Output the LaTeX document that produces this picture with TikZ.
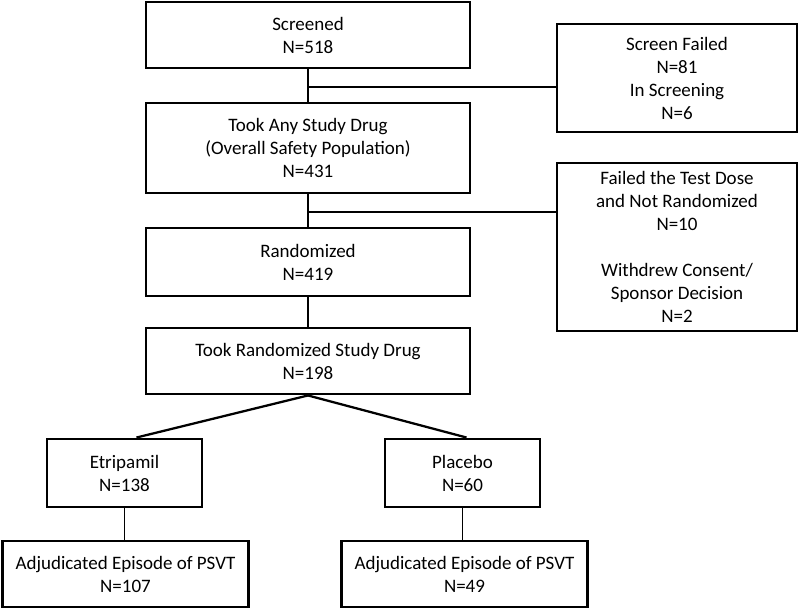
\documentclass[tikz,border=0pt]{standalone}
\usepackage{fontspec}
\setmainfont{Carlito}
\begin{document}
\begin{tikzpicture}[x=0.75pt,y=-0.75pt,
  box/.style={draw=black, line width=2.2pt, rectangle, inner sep=0pt, align=center,
    font=\fontsize{14.25}{17.25}\selectfont},
  conn/.style={draw=black, line width=1.2pt},
  mainconn/.style={draw=black, line width=1.7pt}]
\useasboundingbox (0,0) rectangle (800,609);
% main column
\node[box, minimum width=243pt, minimum height=49.5pt] (scr) at (308,35) {Screened\\N=518};
\node[box, minimum width=243pt, minimum height=67.5pt] (any) at (308,148) {Took Any Study Drug\\(Overall Safety Population)\\N=431};
\node[box, minimum width=243pt, minimum height=51pt] (rnd) at (308,262) {Randomized\\N=419};
\node[box, minimum width=243pt, minimum height=49.5pt] (trd) at (308,361) {Took Randomized Study Drug\\N=198};
% side boxes
\node[box, minimum width=180pt, minimum height=81pt] (sf) at (677,78) {Screen Failed\\N=81\\In Screening\\N=6};
\node[box, minimum width=180pt, minimum height=126pt] (ft) at (677,247) {Failed the Test Dose\\and Not Randomized\\N=10\\[17.25pt]Withdrew Consent/\\Sponsor Decision\\N=2};
% arms
\node[box, minimum width=116.25pt, minimum height=51pt] (eti) at (124.5,473) {Etripamil\\N=138};
\node[box, minimum width=116.25pt, minimum height=51pt] (pla) at (462.5,473) {Placebo\\N=60};
\node[box, minimum width=184.5pt, minimum height=49.5pt] (adl) at (125.5,574) {Adjudicated Episode of PSVT\\N=107};
\node[box, minimum width=184.5pt, minimum height=49.5pt] (adr) at (464.5,574) {Adjudicated Episode of PSVT\\N=49};
% connectors
\coordinate (j1) at (308,87);
\coordinate (j2) at (308,212);
\draw[mainconn] (scr.south) -- (any.north);
\draw[mainconn] (any.south) -- (rnd.north);
\draw[mainconn] (rnd.south) -- (trd.north);
\draw[conn] (j1) -- (j1 -| sf.west);
\draw[conn] (j2) -- (j2 -| ft.west);
\coordinate (eL) at ([xshift=9pt]eti.north);
\coordinate (pL) at ([xshift=3pt]pla.north);
\draw[mainconn] (trd.south) -- (eL);
\draw[mainconn] (trd.south) -- (pL);
\draw[conn] (eti.south) -- (eti.south |- adl.north);
\draw[conn] (pla.south) -- (pla.south |- adr.north);
\end{tikzpicture}
\end{document}
